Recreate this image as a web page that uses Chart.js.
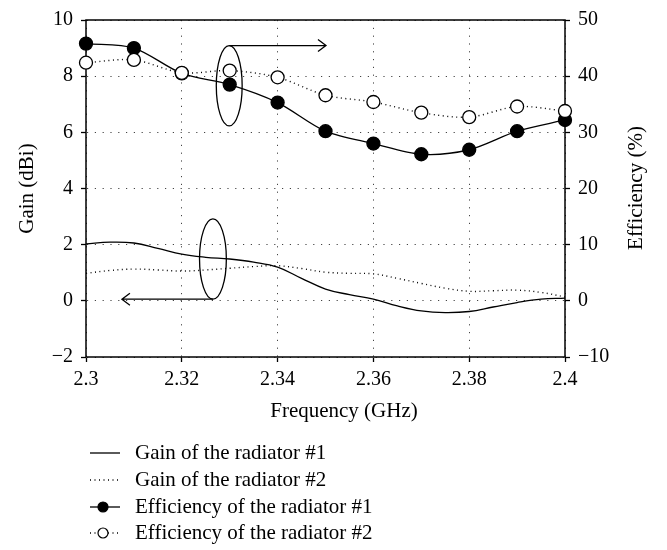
<!DOCTYPE html>
<html>
<head>
<meta charset="utf-8">
<script src="https://cdn.jsdelivr.net/npm/chart.js@4"></script>
<style>
  html, body { margin: 0; padding: 0; background: #fff; }
</style>
</head>
<body>
<canvas id="myChart" width="667" height="550"></canvas>
<script>
// frequency points of the efficiency measurement (GHz)
const freqEff = [2.30, 2.31, 2.32, 2.33, 2.34, 2.35, 2.36, 2.37, 2.38, 2.39, 2.40];
const eff1 = [45.8, 45.0, 40.5, 38.5, 35.3, 30.2, 28.0, 26.1, 26.9, 30.2, 32.2];
const eff2 = [42.4, 42.9, 40.6, 41.0, 39.8, 36.6, 35.4, 33.5, 32.7, 34.6, 33.8];

// gain curves (dBi)
const freqGain = [2.300, 2.305, 2.310, 2.315, 2.320, 2.325, 2.330, 2.335, 2.340, 2.345, 2.350,
                  2.355, 2.360, 2.365, 2.370, 2.375, 2.380, 2.385, 2.390, 2.395, 2.400];
const gain1 = [2.03, 2.09, 2.06, 1.87, 1.66, 1.55, 1.49, 1.38, 1.20, 0.80, 0.42,
               0.22, 0.06, -0.18, -0.36, -0.42, -0.38, -0.22, -0.06, 0.06, 0.10];
const gain2 = [0.98, 1.08, 1.13, 1.10, 1.06, 1.10, 1.16, 1.22, 1.25, 1.15, 1.02,
               0.98, 0.96, 0.80, 0.62, 0.45, 0.34, 0.36, 0.38, 0.30, 0.14];

const xTicks = [2.3, 2.32, 2.34, 2.36, 2.38, 2.4];
const gainTicks = [-2, 0, 2, 4, 6, 8, 10];
const effTicks = [-10, 0, 10, 20, 30, 40, 50];

const seriesNames = ['Gain of the radiator #1', 'Gain of the radiator #2',
                     'Efficiency of the radiator #1', 'Efficiency of the radiator #2'];

const FONT = '"Liberation Serif", "DejaVu Serif", serif';
const dotted = [1, 3.5];

function pts(xs, ys) {
  return xs.map((x, i) => ({ x: x, y: ys[i] }));
}
function minus(v) {
  return String(v).replace('-', '\u2212');
}

// ellipse + arrow call-outs (data units)
const callouts = [
  { cx: 2.3299, top: 9.09, bottom: 6.23, rx: 0.0027, arrowFrom: 'top', arrowTo: 2.3501 },
  { cx: 2.3265, top: 2.92, bottom: 0.06, rx: 0.0028, arrowFrom: 'bottom', arrowTo: 2.3075 }
];

const framePlugin = {
  id: 'frame',
  beforeDatasetsDraw(chart) {
    const { ctx, chartArea: a } = chart;
    ctx.save();
    ctx.strokeStyle = '#000';
    ctx.lineWidth = 1.5;
    ctx.strokeRect(a.left, a.top, a.right - a.left, a.bottom - a.top);
    ctx.restore();
  },
  afterDraw(chart) {
    const { ctx, chartArea: a } = chart;
    const xs = chart.scales.x, ys = chart.scales.y;
    ctx.save();
    ctx.strokeStyle = '#000';
    ctx.lineWidth = 1.3;
    callouts.forEach(c => {
      const cx = xs.getPixelForValue(c.cx);
      const t = ys.getPixelForValue(c.top);
      const b = ys.getPixelForValue(c.bottom);
      const rx = Math.abs(xs.getPixelForValue(c.cx + c.rx) - cx);
      ctx.beginPath();
      ctx.ellipse(cx, (t + b) / 2, rx, (b - t) / 2, 0, 0, Math.PI * 2);
      ctx.stroke();
      const ay = c.arrowFrom === 'top' ? t : b;
      const ax = xs.getPixelForValue(c.arrowTo);
      const dir = ax > cx ? 1 : -1;
      ctx.beginPath();
      ctx.moveTo(cx, ay);
      ctx.lineTo(ax, ay);
      ctx.moveTo(ax - dir * 8, ay - 6);
      ctx.lineTo(ax, ay);
      ctx.lineTo(ax - dir * 8, ay + 6);
      ctx.stroke();
    });

    // axis titles
    ctx.fillStyle = '#000';
    ctx.font = '21px ' + FONT;
    ctx.textAlign = 'center';
    ctx.textBaseline = 'middle';
    ctx.fillText('Frequency (GHz)', 344, 411);
    ctx.save();
    ctx.translate(636, 188);
    ctx.rotate(-Math.PI / 2);
    ctx.fillText('Efficiency (%)', 0, 0);
    ctx.restore();

    // legend
    const rows = [453, 480, 507, 533];
    ctx.textAlign = 'left';
    seriesNames.forEach((name, i) => {
      const y = rows[i];
      ctx.lineWidth = 1.3;
      ctx.setLineDash(i === 1 || i === 3 ? dotted : []);
      ctx.beginPath();
      ctx.moveTo(90, y);
      ctx.lineTo(120, y);
      ctx.stroke();
      ctx.setLineDash([]);
      if (i >= 2) {
        ctx.beginPath();
        ctx.arc(103, y, 5, 0, Math.PI * 2);
        ctx.fillStyle = i === 2 ? '#000' : '#fff';
        ctx.fill();
        ctx.lineWidth = 1.2;
        ctx.stroke();
        ctx.fillStyle = '#000';
      }
      ctx.fillText(name, 135, y);
    });
    ctx.restore();
  }
};

const gridDots = { dash: [1.2, 6.6], display: true, color: 'rgba(0,0,0,0)' };
const tickFont = { family: FONT, size: 20 };
const titleFont = { family: FONT, size: 21 };

new Chart(document.getElementById('myChart'), {
  type: 'line',
  data: {
    datasets: [
      {
        label: seriesNames[0],
        data: pts(freqGain, gain1),
        yAxisID: 'y',
        borderColor: '#000',
        borderWidth: 1.3,
        pointRadius: 0,
        tension: 0.4,
        fill: false,
        order: 4
      },
      {
        label: seriesNames[1],
        data: pts(freqGain, gain2),
        yAxisID: 'y',
        borderColor: '#000',
        borderWidth: 1.4,
        borderDash: dotted,
        pointRadius: 0,
        tension: 0.4,
        fill: false,
        order: 3
      },
      {
        label: seriesNames[2],
        data: pts(freqEff, eff1),
        yAxisID: 'y2',
        borderColor: '#000',
        borderWidth: 1.3,
        pointRadius: 6.5,
        pointBackgroundColor: '#000',
        pointBorderColor: '#000',
        tension: 0.3,
        fill: false,
        clip: false,
        order: 2
      },
      {
        label: seriesNames[3],
        data: pts(freqEff, eff2),
        yAxisID: 'y2',
        borderColor: '#000',
        borderWidth: 1.4,
        borderDash: dotted,
        pointRadius: 6.5,
        pointBackgroundColor: '#fff',
        pointBorderColor: '#000',
        pointBorderWidth: 1.3,
        tension: 0.3,
        fill: false,
        clip: false,
        order: 1
      }
    ]
  },
  options: {
    responsive: false,
    animation: false,
    devicePixelRatio: 1,
    layout: { padding: { top: 13, bottom: 123, left: 0, right: 0 } },
    plugins: { legend: { display: false }, tooltip: { enabled: false } },
    scales: {
      x: {
        type: 'linear',
        min: 2.3,
        max: 2.4,
        afterBuildTicks: s => { s.ticks = xTicks.map(v => ({ value: v })); },
        afterFit: s => { s.height = 70; },
        ticks: {
          color: '#000',
          font: tickFont,
          padding: 6,
          maxRotation: 0,
          callback: v => String(Number(v.toFixed(2)))
        },
        grid: { color: '#444', lineWidth: 1, tickLength: 5, tickColor: '#000', tickWidth: 1.3, tickBorderDash: [] },
        border: gridDots,
        title: { display: false }
      },
      y: {
        position: 'left',
        min: -2,
        max: 10,
        afterBuildTicks: s => { s.ticks = gainTicks.map(v => ({ value: v })); },
        afterFit: s => { s.width = 86; },
        ticks: { color: '#000', font: tickFont, padding: 8, callback: v => minus(v) },
        grid: { color: '#444', lineWidth: 1, tickLength: 5, tickColor: '#000', tickWidth: 1.3, tickBorderDash: [] },
        border: gridDots,
        title: { display: true, text: 'Gain (dBi)', color: '#000', font: titleFont, padding: { top: 15 } }
      },
      y2: {
        position: 'right',
        min: -10,
        max: 50,
        afterBuildTicks: s => { s.ticks = effTicks.map(v => ({ value: v })); },
        afterFit: s => { s.width = 102; },
        ticks: { color: '#000', font: tickFont, padding: 8, callback: v => minus(v) },
        grid: { drawOnChartArea: false, tickLength: 5, tickColor: '#000', tickWidth: 1.3, tickBorderDash: [] },
        border: { display: false },
        title: { display: false }
      }
    }
  },
  plugins: [framePlugin]
});
</script>
</body>
</html>
